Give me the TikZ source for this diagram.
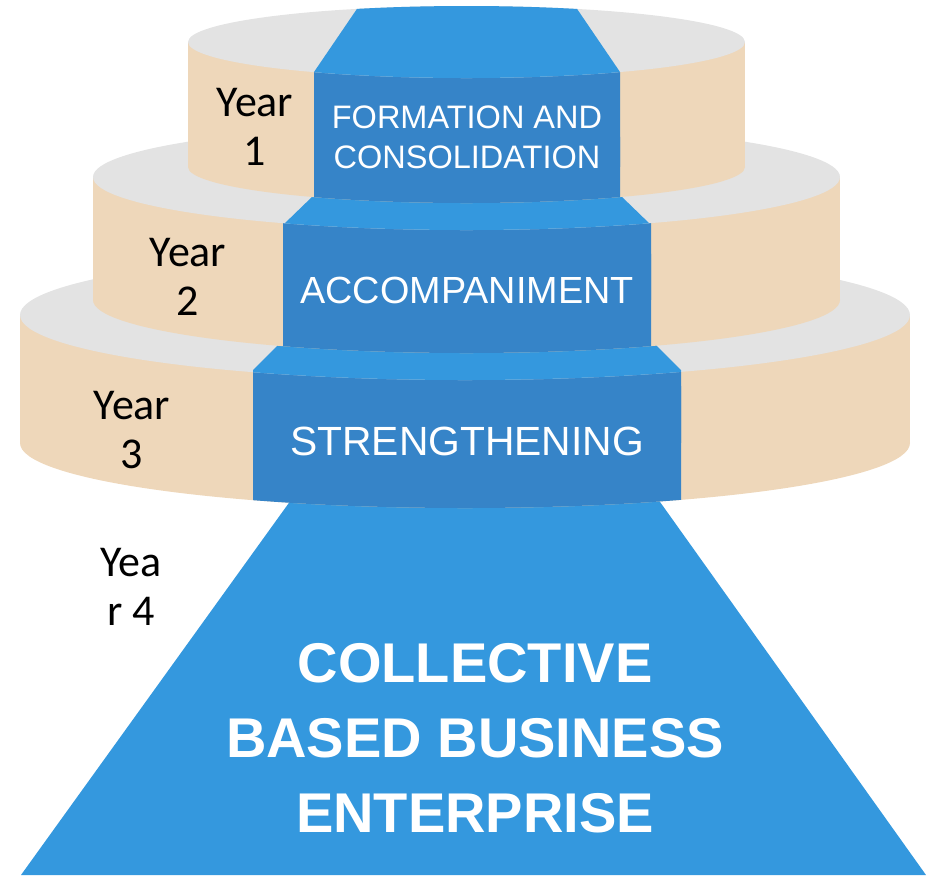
\documentclass[tikz,border=0pt]{standalone}
\usepackage{fontspec}
\setmainfont{Liberation Sans}
\newfontfamily\yearfont{Carlito}
\definecolor{beige}{RGB}{238,215,186}
\definecolor{topgray}{RGB}{227,227,227}
\definecolor{lblue}{RGB}{52,152,222}
\definecolor{dblue}{RGB}{54,132,200}
% #1 cx, #2 top centre y, #3 bottom centre y, #4 rx, #5 ry, #6 panel left, #7 panel right
\newcommand\drawtier[7]{%
  \fill[beige] ({#1-#4},#2) rectangle ({#1+#4},#3);
  \fill[beige] (#1,#3) ellipse [x radius=#4, y radius=#5];
  \begin{scope}
    \clip (#6,0) rectangle (#7,875);
    \fill[dblue] ({#1-#4},#2) rectangle ({#1+#4},#3);
    \fill[dblue] (#1,#3) ellipse [x radius=#4, y radius=#5];
  \end{scope}
  \fill[topgray] (#1,#2) ellipse [x radius=#4, y radius=#5];
}
\tikzset{
  paneltext/.style={text=white, align=center, inner sep=0pt},
  yeartext/.style={text=black, align=center, inner sep=0pt,
    font=\yearfont\fontsize{22}{24.5}\selectfont},
}
\begin{document}
\begin{tikzpicture}[x=0.5pt,y=-0.5pt]
\useasboundingbox (0,0) rectangle (928,875);

% base trapezoid
\fill[lblue] (21,875) -- (327,450) -- (623,450) -- (926,875) -- cycle;

% tier 3
\drawtier{465}{315}{443}{445}{65}{253}{681}
\begin{scope}
  \clip (465,315) ellipse [x radius=445, y radius=65];
  \fill[lblue] (253,450) -- (253,370) -- (279,344) -- (279,200) -- (655,200)
    -- (655,344) -- (681,370) -- (681,450) -- cycle;
\end{scope}

% tier 2
\drawtier{466.5}{177}{300}{373.5}{53}{283}{651}
\begin{scope}
  \clip (466.5,177) ellipse [x radius=373.5, y radius=53];
  \fill[lblue] (283,400) -- (283,225) -- (314,195) -- (314,100) -- (620,100)
    -- (620,195) -- (651,225) -- (651,400) -- cycle;
\end{scope}

% tier 1
\drawtier{466.5}{42}{167}{278.5}{36}{314}{620}
\begin{scope}
  \clip (466.5,42) ellipse [x radius=278.5, y radius=36];
  \fill[lblue] (314,150) -- (314,72) -- (363,0) -- (571,0) -- (620,72)
    -- (620,150) -- cycle;
\end{scope}

% texts
\node[paneltext, font=\fontsize{16.25}{20}\selectfont] (t1) at (467,137)
  {FORMATION AND\\CONSOLIDATION};
\node[paneltext, font=\fontsize{18.9}{22}\selectfont] (t2) at (467,290)
  {ACCOMPANIMENT};
\node[paneltext, font=\fontsize{20.4}{24}\selectfont] (t3) at (467,441)
  {STRENGTHENING};
\node[paneltext, font=\bfseries\fontsize{28}{37.5}\selectfont] (t4) at (475,738)
  {COLLECTIVE\\BASED BUSINESS\\ENTERPRISE};

\node[yeartext] (y1) at (255,127) {Year\\1};
\node[yeartext] (y2) at (188,277) {Year\\2};
\node[yeartext] (y3) at (132,430) {Year\\3};
\node[yeartext] (y4) at (131,587) {Yea\\r 4};
\end{tikzpicture}
\end{document}
